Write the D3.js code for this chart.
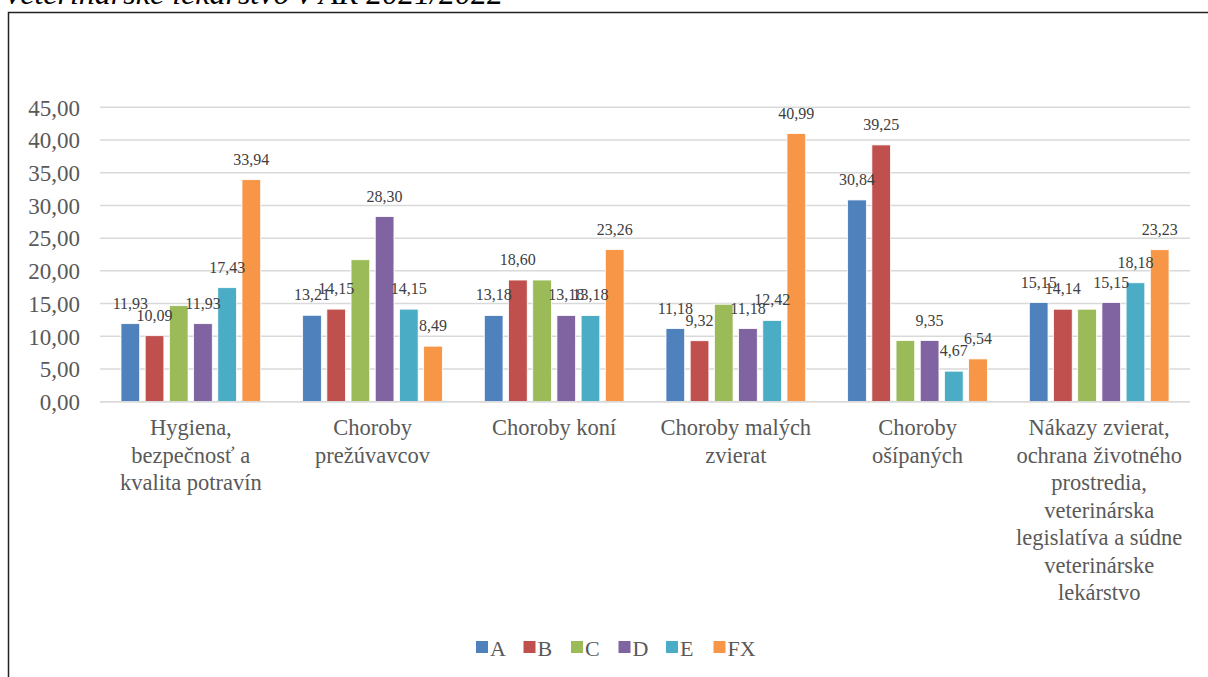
<!DOCTYPE html>
<html>
<head>
<meta charset="utf-8">
<script src="https://cdn.jsdelivr.net/npm/d3@7/dist/d3.min.js"></script>
<style>
  html, body { margin: 0; padding: 0; background: #fff; }
  svg { display: block; }
</style>
</head>
<body>
<svg id="chart" width="1208" height="677"></svg>
<script>
const categories = [
  "Hygiena, bezpečnosť a kvalita potravín",
  "Choroby prežúvavcov",
  "Choroby koní",
  "Choroby malých zvierat",
  "Choroby ošípaných",
  "Nákazy zvierat, ochrana životného prostredia, veterinárska legislatíva a súdne veterinárske lekárstvo"
];
const seriesNames = ["A", "B", "C", "D", "E", "FX"];
const seriesA  = [11.93, 13.21, 13.18, 11.18, 30.84, 15.15];
const seriesB  = [10.09, 14.15, 18.60, 9.32, 39.25, 14.14];
const seriesC  = [14.68, 21.70, 18.60, 14.90, 9.35, 14.14];
const seriesD  = [11.93, 28.30, 13.18, 11.18, 9.35, 15.15];
const seriesE  = [17.43, 14.15, 13.18, 12.42, 4.67, 18.18];
const seriesFX = [33.94, 8.49, 23.26, 40.99, 6.54, 23.23];
const showLabel = [true, true, false, true, true, true];
const yTicks = [0, 5, 10, 15, 20, 25, 30, 35, 40, 45];
const colors = ["#4F81BD", "#C0504D", "#9BBB59", "#8064A2", "#4BACC6", "#F79646"];
const titleText = "veterinárske lekárstvo v AR 2021/2022";

const allSeries = [seriesA, seriesB, seriesC, seriesD, seriesE, seriesFX];
const fmt = v => v.toFixed(2).replace(".", ",");
const FONT = '"Liberation Serif"';

const svg = d3.select("#chart");

// title (cut off at top)
svg.append("text")
  .attr("x", 6).attr("y", 4)
  .style("font-family", FONT).style("font-style", "italic")
  .style("font-size", "32px").attr("fill", "#000")
  .text(titleText);

// border
svg.append("path")
  .attr("d", "M8.5,677 L8.5,12.5 L1208,12.5")
  .attr("fill", "none").attr("stroke", "#222").attr("stroke-width", 1.5);

const plot = { left: 100, right: 1190, top: 107.3, bottom: 401.7 };

const x0 = d3.scaleBand().domain(categories).range([plot.left, plot.right]).padding(0);
const innerW = 145.2;
const bw0 = x0.bandwidth();
const x1 = d3.scaleBand().domain(seriesNames)
  .range([(bw0 - innerW) / 2, (bw0 + innerW) / 2]).paddingInner(0.227).paddingOuter(0.1135);
const y = d3.scaleLinear().domain([0, 45]).range([plot.bottom, plot.top]);

// gridlines
svg.append("g").selectAll("line").data(yTicks).join("line")
  .attr("x1", plot.left).attr("x2", plot.right)
  .attr("y1", d => y(d)).attr("y2", d => y(d))
  .attr("stroke", "#d9d9d9").attr("stroke-width", 1.5);

// y axis labels
const yAxis = d3.axisLeft(y).tickValues(yTicks).tickFormat(fmt).tickSize(0).tickPadding(0);
const yg = svg.append("g").attr("transform", `translate(80,0)`).call(yAxis);
yg.select(".domain").remove();
yg.selectAll("text")
  .style("font-family", FONT).style("font-size", "23px").attr("fill", "#595959")
  .attr("dy", "0.34em");

// bars
const data = [];
categories.forEach((c, i) => {
  seriesNames.forEach((s, j) => {
    data.push({ cat: c, s, j, v: allSeries[j][i] });
  });
});

const groups = svg.append("g");
groups.selectAll("rect").data(data).join("rect")
  .attr("x", d => x0(d.cat) + x1(d.s))
  .attr("y", d => y(d.v))
  .attr("width", x1.bandwidth())
  .attr("height", d => y(0) - y(d.v))
  .attr("fill", d => colors[d.j])
  .attr("stroke", "#fff").attr("stroke-width", 0.8);

// data labels
groups.selectAll("text.lbl").data(data.filter(d => showLabel[d.j])).join("text")
  .attr("class", "lbl")
  .attr("x", d => x0(d.cat) + x1(d.s) + x1.bandwidth() / 2)
  .attr("y", d => y(d.v) - 15)
  .attr("text-anchor", "middle")
  .style("font-family", FONT).style("font-size", "16px").attr("fill", "#404040")
  .text(d => fmt(d.v));

// x axis bottom line
svg.append("line")
  .attr("x1", plot.left).attr("x2", plot.right)
  .attr("y1", y(0)).attr("y2", y(0))
  .attr("stroke", "#d9d9d9").attr("stroke-width", 1.5);

// category labels with wrapping
const catG = svg.append("g");
categories.forEach(c => {
  const cx = x0(c) + bw0 / 2;
  const t = catG.append("text")
    .attr("x", cx).attr("y", 435)
    .attr("text-anchor", "middle")
    .style("font-family", FONT).style("font-size", "22.5px").attr("fill", "#595959");
  const words = c.split(" ");
  let line = [];
  let ts = t.append("tspan").attr("x", cx).attr("dy", 0);
  words.forEach(w => {
    line.push(w);
    ts.text(line.join(" "));
    if (ts.node().getComputedTextLength() > 170 && line.length > 1) {
      line.pop();
      ts.text(line.join(" "));
      line = [w];
      ts = t.append("tspan").attr("x", cx).attr("dy", 27.5).text(w);
    }
  });
});

// legend
const legendX = d3.scaleBand().domain(seriesNames).range([476, 476 + 47.5 * 6]);
const lg = svg.append("g");
seriesNames.forEach((s, j) => {
  const lx = legendX(s);
  lg.append("rect").attr("x", lx).attr("y", 641).attr("width", 12).attr("height", 12)
    .attr("fill", colors[j]);
  lg.append("text").attr("x", lx + 14).attr("y", 655.5)
    .style("font-family", FONT).style("font-size", "22px").attr("fill", "#595959")
    .text(s);
});
</script>
</body>
</html>
